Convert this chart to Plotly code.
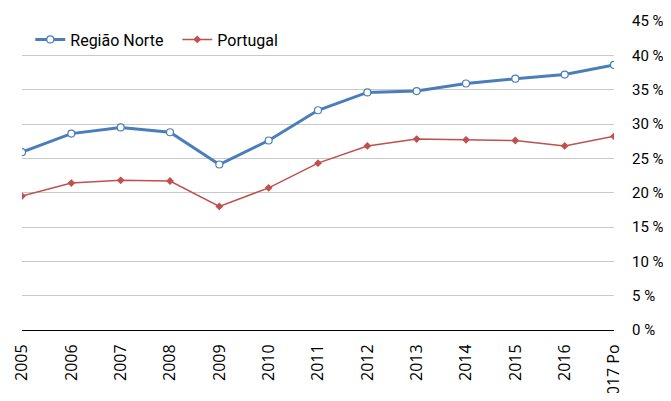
import plotly.graph_objects as go

categories = ["2005", "2006", "2007", "2008", "2009", "2010", "2011",
              "2012", "2013", "2014", "2015", "2016", "2017 Po"]
regiao_norte = [25.9, 28.6, 29.5, 28.8, 24.1, 27.6, 32.0, 34.6, 34.8, 35.9, 36.6, 37.2, 38.6]
portugal = [19.5, 21.4, 21.8, 21.7, 18.0, 20.7, 24.3, 26.8, 27.8, 27.7, 27.6, 26.8, 28.2]
y_ticks = [0, 5, 10, 15, 20, 25, 30, 35, 40, 45]
y_tick_labels = [f"{v} %" for v in y_ticks]

FONT_Y = "Roboto, DejaVu Sans Condensed, sans-serif"
FONT_X = "Open Sans, sans-serif"

fig = go.Figure()
fig.add_trace(go.Scatter(
    x=categories, y=regiao_norte, name="Região Norte", mode="lines+markers",
    line=dict(color="#4a7ebb", width=3),
    marker=dict(symbol="circle", size=7, color="white",
                line=dict(color="#4a7ebb", width=1.2)),
))
fig.add_trace(go.Scatter(
    x=categories, y=portugal, name="Portugal", mode="lines+markers",
    line=dict(color="#c0504d", width=1.5),
    marker=dict(symbol="diamond", size=6, color="#c0504d"),
))

# the page body has an 8px default margin on every side: size the figure so the
# page does not overflow the window and the plot lands where the reference has it
fig.update_layout(
    width=655, height=385,
    margin=dict(l=14, r=49, t=13, b=63),
    plot_bgcolor="white", paper_bgcolor="white",
    showlegend=True,
    legend=dict(orientation="h", x=0.014, y=0.94, xanchor="left", yanchor="middle",
                font=dict(family=FONT_Y, size=16, color="#000000"),
                bgcolor="rgba(0,0,0,0)", itemwidth=30, tracegroupgap=0,
                entrywidth=102, entrywidthmode="pixels"),
    xaxis=dict(
        type="category", range=[0, len(categories) - 1], automargin=False,
        tickangle=-90, tickfont=dict(family=FONT_X, size=16, color="#000000"),
        showgrid=False, showline=False, ticks="outside", ticklen=7,
        tickcolor="rgba(0,0,0,0)", zeroline=False,
    ),
    yaxis=dict(
        side="right", range=[0, 45], tickvals=y_ticks, ticktext=y_tick_labels,
        automargin=False,
        tickfont=dict(family=FONT_Y, size=15, color="#000000"),
        showgrid=True, gridcolor="#c8c8c8", gridwidth=1,
        zeroline=True, zerolinecolor="#000000", zerolinewidth=1.3,
        ticks="outside", ticklen=14, tickcolor="rgba(0,0,0,0)",
        showline=False,
    ),
)

fig.write_html("out.html")
